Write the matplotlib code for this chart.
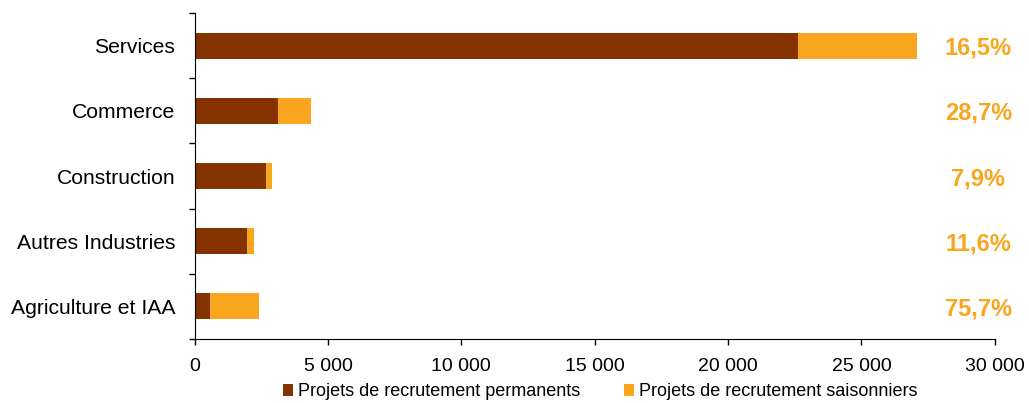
import matplotlib.pyplot as plt
import numpy as np

secteurs = ['Services', 'Commerce', 'Construction', 'Autres Industries', 'Agriculture et IAA']
permanents = [22620, 3120, 2660, 1965, 590]
saisonniers = [4470, 1255, 228, 258, 1835]
part_saison = ['16,5%', '28,7%', '7,9%', '11,6%', '75,7%']
xticks = [0, 5000, 10000, 15000, 20000, 25000, 30000]
xtick_labels = ['0', '5 000', '10 000', '15 000', '20 000', '25 000', '30 000']

brun = '#833200'
orange = '#F9A61E'
police = ['Liberation Sans', 'DejaVu Sans']

fig = plt.figure(figsize=(10.29, 4.03), dpi=100)
ax = fig.add_axes([0.1892, 0.1588, 0.7775, 0.8089])

y = np.arange(len(secteurs))
ax.barh(y, permanents, height=0.4, color=brun, label='Projets de recrutement permanents')
ax.barh(y, saisonniers, left=permanents, height=0.4, color=orange,
        label='Projets de recrutement saisonniers')

ax.set_xlim(0, 30000)
ax.set_ylim(len(secteurs) - 0.5, -0.5)
ax.set_yticks(y)
ax.set_yticklabels(secteurs, family=police, fontsize=15.2)
ax.set_yticks(np.arange(-0.5, len(secteurs)), minor=True)
ax.tick_params(axis='y', which='major', length=0, pad=14)
ax.tick_params(axis='y', which='minor', length=4.5, width=1)
ax.set_xticks(xticks)
ax.set_xticklabels(xtick_labels, family=police, fontsize=14)
ax.tick_params(axis='x', length=4.5, width=1, pad=9)

for s in ['top', 'right']:
    ax.spines[s].set_visible(False)

for yi, txt in zip(y, part_saison):
    ax.text(29380, yi + 0.04, txt, color=orange, fontsize=17, fontweight='bold',
            ha='center', va='center', family=police, clip_on=False)

fig.legend(loc='center', bbox_to_anchor=(600 / 1029, 1 - 392 / 403), ncol=2, frameon=False,
           handlelength=0.6, handleheight=0.6, handletextpad=0.25, columnspacing=2.4,
           prop={'family': police, 'size': 13})

fig.savefig('out.png', dpi=100)
